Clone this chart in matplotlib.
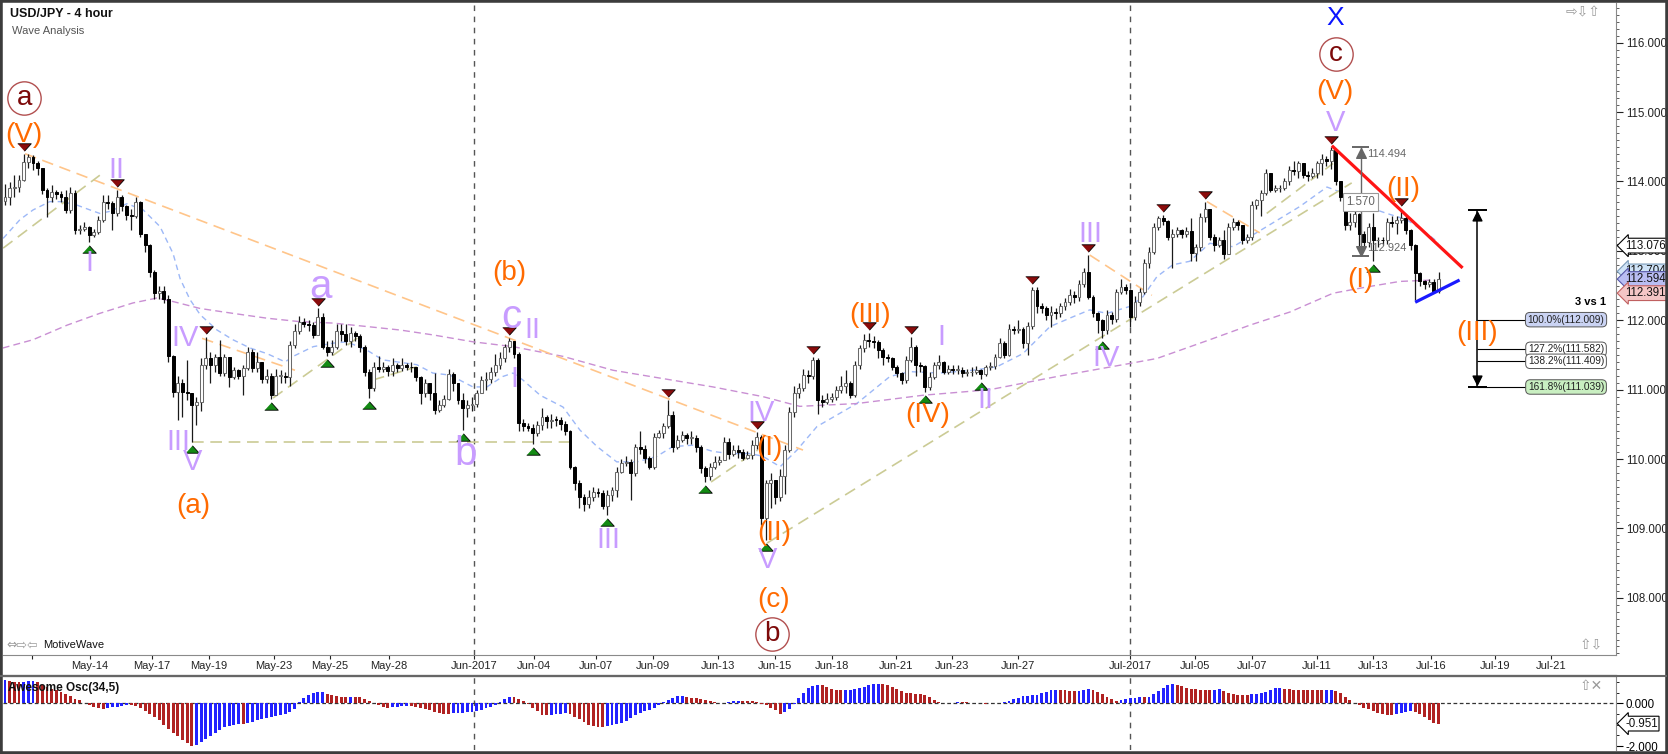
import numpy as np
import matplotlib
matplotlib.use("Agg")
import matplotlib.pyplot as plt
from matplotlib.patches import Rectangle
from matplotlib.lines import Line2D
from matplotlib.ticker import MultipleLocator, FormatStrFormatter, FixedLocator

plt.rcParams['font.family'] = ['Liberation Sans', 'DejaVu Sans']

# ---------------- data ----------------
first_open = 113.72
close = [
    113.78, 113.90, 113.92, 114.02, 114.28, 114.36, 114.26, 114.20, 113.88, 113.78,
    113.85, 113.82, 113.78, 113.59, 113.84, 113.30, 113.32, 113.35, 113.23, 113.27,
    113.45, 113.71, 113.69, 113.55, 113.78, 113.64, 113.52, 113.50, 113.71, 113.25,
    113.08, 112.70, 112.39, 112.42, 112.30, 111.48, 110.97, 111.09, 110.97, 110.95,
    110.78, 110.82, 111.36, 111.45, 111.35, 111.47, 111.24, 111.47, 111.19, 111.28,
    111.20, 111.31, 111.55, 111.31, 111.40, 111.16, 111.20, 110.93, 111.20, 111.20,
    111.18, 111.64, 111.84, 111.98, 111.95, 111.93, 111.79, 112.05, 111.62, 111.55,
    111.62, 111.84, 111.80, 111.70, 111.81, 111.77, 111.62, 111.26, 111.02, 111.33,
    111.30, 111.32, 111.27, 111.35, 111.31, 111.35, 111.33, 111.32, 111.19, 110.95,
    111.10, 110.95, 110.71, 110.78, 110.87, 111.23, 111.10, 110.85, 110.73, 110.78,
    110.80, 110.95, 111.14, 111.16, 111.26, 111.36, 111.45, 111.62, 111.70, 111.52,
    110.52, 110.47, 110.45, 110.37, 110.49, 110.61, 110.55, 110.57, 110.56, 110.50,
    110.40, 109.89, 109.65, 109.46, 109.36, 109.46, 109.53, 109.51, 109.32, 109.48,
    109.55, 109.82, 109.94, 109.96, 109.80, 110.18, 110.15, 110.01, 109.89, 110.32,
    110.37, 110.47, 110.63, 110.18, 110.27, 110.34, 110.30, 110.31, 110.18, 109.87,
    109.75, 109.89, 109.96, 109.99, 110.25, 110.08, 110.13, 110.10, 110.02, 110.06,
    110.20, 110.32, 109.15, 109.65, 109.70, 109.46, 109.75, 110.13, 110.68, 110.95,
    111.02, 111.21, 111.20, 111.43, 110.85, 110.82, 110.87, 110.90, 111.00, 111.06,
    111.10, 110.92, 111.36, 111.60, 111.72, 111.70, 111.68, 111.57, 111.47, 111.45,
    111.33, 111.24, 111.14, 111.43, 111.62, 111.36, 111.34, 111.04, 111.19, 111.36,
    111.40, 111.26, 111.30, 111.28, 111.29, 111.24, 111.25, 111.26, 111.28, 111.23,
    111.33, 111.34, 111.47, 111.67, 111.50, 111.88, 111.86, 111.88, 111.67, 111.92,
    112.44, 112.20, 112.17, 112.08, 112.12, 112.10, 112.20, 112.27, 112.37, 112.33,
    112.53, 112.70, 112.34, 112.10, 112.00, 111.86, 112.08, 112.02, 112.41, 112.48,
    112.43, 112.05, 112.27, 112.41, 112.82, 112.99, 113.35, 113.47, 113.43, 113.20,
    113.25, 113.30, 113.25, 113.28, 112.97, 113.06, 113.49, 113.60, 113.20, 113.09,
    113.15, 112.96, 113.35, 113.42, 113.38, 113.16, 113.20, 113.66, 113.73, 113.83,
    114.12, 113.88, 113.90, 113.90, 114.00, 114.17, 114.15, 114.26, 114.10, 114.08,
    114.12, 114.26, 114.33, 114.30, 114.45, 114.00, 113.78, 113.37, 113.42, 113.53,
    113.25, 113.13, 113.35, 113.15, 113.16, 113.15, 113.42, 113.40, 113.45, 113.47,
    113.30, 113.08, 112.68, 112.56, 112.52, 112.55, 112.42, 112.59,
]
high = [
    113.97, 113.99, 114.10, 114.10, 114.40, 114.40, 114.38, 114.30, 114.20, 113.90,
    113.95, 113.88, 113.87, 113.88, 113.92, 113.88, 113.38, 113.42, 113.36, 113.32,
    113.50, 113.80, 113.80, 113.72, 113.88, 113.80, 113.66, 113.60, 113.78, 113.72,
    113.25, 113.10, 112.72, 112.50, 112.50, 112.36, 111.50, 111.20, 111.15, 111.43,
    110.95, 110.90, 111.45, 111.76, 111.55, 111.52, 111.72, 111.52, 111.47, 111.32,
    111.30, 111.35, 111.62, 111.58, 111.55, 111.33, 111.30, 111.24, 111.30, 111.28,
    111.25, 111.70, 111.95, 112.06, 112.03, 112.00, 111.98, 112.17, 112.10, 111.70,
    111.72, 111.95, 111.95, 111.95, 111.90, 111.85, 111.80, 111.65, 111.30, 111.40,
    111.48, 111.40, 111.35, 111.45, 111.38, 111.45, 111.38, 111.40, 111.33, 111.20,
    111.15, 111.10, 111.24, 110.85, 110.92, 111.30, 111.25, 111.00, 110.95, 110.85,
    110.90, 111.00, 111.20, 111.25, 111.33, 111.52, 111.55, 111.66, 111.74, 111.68,
    111.55, 110.58, 110.52, 110.50, 110.55, 110.74, 110.64, 110.65, 110.62, 110.60,
    110.55, 110.42, 109.90, 109.70, 109.50, 109.55, 109.60, 109.58, 109.55, 109.55,
    109.60, 109.88, 110.00, 110.05, 110.00, 110.22, 110.40, 110.20, 110.05, 110.37,
    110.42, 110.52, 110.85, 110.70, 110.35, 110.40, 110.38, 110.40, 110.34, 110.20,
    109.90, 109.95, 110.05, 110.05, 110.32, 110.30, 110.20, 110.20, 110.15, 110.12,
    110.28, 110.39, 110.35, 109.70, 109.80, 109.70, 109.85, 110.20, 110.75, 111.05,
    111.10, 111.30, 111.28, 111.47, 111.45, 110.92, 110.95, 110.95, 111.05, 111.20,
    111.28, 111.12, 111.42, 111.65, 111.80, 111.82, 111.78, 111.72, 111.60, 111.52,
    111.47, 111.35, 111.25, 111.48, 111.76, 111.64, 111.40, 111.36, 111.25, 111.40,
    111.50, 111.42, 111.36, 111.35, 111.35, 111.32, 111.30, 111.32, 111.34, 111.30,
    111.36, 111.40, 111.52, 111.75, 111.70, 111.95, 111.92, 112.00, 111.90, 111.98,
    112.48, 112.48, 112.25, 112.20, 112.20, 112.18, 112.25, 112.32, 112.45, 112.42,
    112.58, 112.75, 112.94, 112.36, 112.12, 112.02, 112.15, 112.12, 112.45, 112.60,
    112.52, 112.45, 112.35, 112.47, 112.88, 113.05, 113.40, 113.50, 113.52, 113.45,
    113.32, 113.35, 113.32, 113.35, 113.48, 113.10, 113.55, 113.71, 113.60, 113.25,
    113.20, 113.30, 113.40, 113.48, 113.45, 113.38, 113.25, 113.72, 113.75, 113.88,
    114.18, 114.12, 113.95, 113.95, 114.05, 114.22, 114.30, 114.30, 114.25, 114.15,
    114.20, 114.30, 114.40, 114.37, 114.50, 114.47, 114.00, 113.80, 113.55, 113.60,
    113.55, 113.28, 113.40, 113.55, 113.20, 113.20, 113.48, 113.50, 113.50, 113.61,
    113.50, 113.32, 113.10, 112.70, 112.58, 112.60, 112.60, 112.70,
]
low = [
    113.66, 113.66, 113.78, 113.85, 114.00, 114.20, 114.17, 114.10, 113.82, 113.49,
    113.70, 113.75, 113.70, 113.55, 113.55, 113.25, 113.24, 113.28, 113.13, 113.20,
    113.24, 113.42, 113.60, 113.30, 113.50, 113.58, 113.45, 113.30, 113.47, 113.20,
    112.98, 112.62, 112.30, 112.30, 112.25, 111.40, 110.90, 110.56, 110.60, 110.85,
    110.25, 110.49, 110.70, 111.30, 111.10, 111.25, 111.20, 111.20, 111.04, 111.15,
    111.15, 110.92, 111.28, 111.25, 111.25, 111.10, 111.10, 110.87, 110.92, 111.10,
    111.10, 111.05, 111.60, 111.80, 111.90, 111.85, 111.75, 111.80, 111.58, 111.48,
    111.50, 111.58, 111.70, 111.65, 111.62, 111.70, 111.55, 111.20, 110.88, 110.98,
    111.25, 111.25, 111.20, 111.20, 111.25, 111.27, 111.28, 111.25, 111.12, 110.80,
    110.90, 110.85, 110.65, 110.68, 110.75, 110.85, 110.98, 110.80, 110.42, 110.60,
    110.70, 110.75, 110.95, 111.00, 111.10, 111.20, 111.30, 111.40, 111.55, 111.45,
    110.40, 110.40, 110.40, 110.22, 110.33, 110.42, 110.45, 110.45, 110.48, 110.42,
    110.35, 109.85, 109.55, 109.30, 109.25, 109.30, 109.40, 109.45, 109.28, 109.20,
    109.40, 109.45, 109.80, 109.90, 109.41, 109.75, 110.08, 109.95, 109.85, 109.85,
    110.30, 110.30, 110.45, 110.10, 110.15, 110.25, 110.22, 110.22, 110.10, 109.80,
    109.67, 109.70, 109.85, 109.92, 110.00, 110.00, 110.05, 110.02, 109.98, 110.00,
    110.00, 110.15, 109.05, 108.83, 109.30, 109.35, 109.40, 109.50, 110.10, 110.60,
    110.88, 110.98, 111.10, 111.15, 110.65, 110.75, 110.80, 110.82, 110.85, 110.95,
    110.95, 110.88, 110.90, 111.30, 111.55, 111.62, 111.60, 111.45, 111.35, 111.40,
    111.28, 111.18, 111.08, 111.10, 111.40, 111.20, 111.25, 110.97, 111.00, 111.15,
    111.30, 111.22, 111.23, 111.22, 111.22, 111.18, 111.20, 111.20, 111.22, 111.16,
    111.20, 111.28, 111.30, 111.45, 111.45, 111.48, 111.80, 111.82, 111.60, 111.50,
    111.88, 112.10, 112.10, 112.00, 111.90, 112.02, 112.05, 112.15, 112.22, 112.25,
    112.28, 112.48, 112.30, 112.05, 111.81, 111.74, 111.80, 111.95, 111.98, 112.38,
    112.38, 111.90, 112.00, 112.20, 112.38, 112.75, 112.95, 113.30, 113.38, 113.15,
    112.75, 113.20, 113.18, 113.20, 112.85, 112.85, 113.00, 113.42, 113.15, 113.00,
    113.05, 112.89, 112.95, 113.30, 113.30, 113.10, 113.12, 113.15, 113.60, 113.50,
    113.80, 113.85, 113.85, 113.85, 113.88, 113.95, 114.10, 114.05, 114.05, 114.00,
    114.05, 114.05, 114.10, 114.22, 114.18, 113.95, 113.72, 113.30, 113.30, 113.35,
    113.00, 113.05, 113.05, 112.85, 113.05, 113.08, 113.10, 113.35, 113.25, 113.40,
    113.25, 113.02, 112.29, 112.50, 112.45, 112.48, 112.39, 112.40,
]
# Awesome Oscillator (34,5) values per bar
ao = [
    1.08, 1.05, 1.00, 0.99, 1.01, 1.03, 1.04, 0.98, 0.88, 0.76,
    0.66, 0.60, 0.52, 0.42, 0.33, 0.22, 0.14, 0.03, -0.08, -0.18,
    -0.24, -0.27, -0.23, -0.19, -0.15, -0.12, -0.08, -0.10, -0.13, -0.20,
    -0.35, -0.50, -0.65, -0.80, -1.00, -1.20, -1.38, -1.55, -1.72, -1.87,
    -2.00, -1.93, -1.83, -1.68, -1.55, -1.38, -1.23, -1.12, -1.05, -1.00,
    -0.96, -0.97, -0.90, -0.86, -0.80, -0.74, -0.68, -0.63, -0.58, -0.54,
    -0.50, -0.40, -0.25, 0.05, 0.25, 0.40, 0.48, 0.52, 0.53, 0.45,
    0.40, 0.35, 0.30, 0.28, 0.29, 0.28, 0.28, 0.20, 0.10, 0.00,
    -0.08, -0.18, -0.20, -0.17, -0.15, -0.13, -0.12, -0.12, -0.16, -0.20,
    -0.25, -0.33, -0.42, -0.45, -0.48, -0.48, -0.46, -0.45, -0.44, -0.43,
    -0.40, -0.35, -0.30, -0.22, -0.15, -0.08, 0.08, 0.20, 0.30, 0.28,
    0.20, 0.10, -0.05, -0.20, -0.38, -0.53, -0.55, -0.53, -0.50, -0.48,
    -0.45, -0.50, -0.62, -0.72, -0.88, -1.02, -1.08, -1.10, -1.11, -1.05,
    -1.00, -0.97, -0.93, -0.82, -0.70, -0.57, -0.46, -0.38, -0.31, -0.20,
    -0.08, 0.05, 0.16, 0.25, 0.33, 0.34, 0.30, 0.27, 0.24, 0.21,
    0.14, 0.10, 0.06, 0.03, 0.02, 0.07, 0.10, 0.12, 0.11, 0.10,
    0.09, 0.08, -0.02, -0.10, -0.20, -0.32, -0.48, -0.42, -0.28, -0.05,
    0.25, 0.48, 0.70, 0.82, 0.88, 0.86, 0.78, 0.68, 0.62, 0.60,
    0.61, 0.63, 0.65, 0.70, 0.78, 0.85, 0.90, 0.92, 0.90, 0.84,
    0.75, 0.66, 0.56, 0.50, 0.47, 0.45, 0.42, 0.37, 0.30, 0.16,
    0.06, 0.03, 0.02, 0.03, 0.04, 0.04, 0.04, 0.03, 0.01, 0.00,
    -0.01, 0.00, 0.01, 0.03, 0.07, 0.11, 0.20, 0.27, 0.32, 0.35,
    0.37, 0.40, 0.46, 0.53, 0.60, 0.64, 0.62, 0.60, 0.58, 0.56,
    0.58, 0.62, 0.67, 0.63, 0.52, 0.42, 0.30, 0.18, 0.12, 0.14,
    0.20, 0.24, 0.27, 0.28, 0.28, 0.30, 0.42, 0.58, 0.72, 0.86,
    0.90, 0.86, 0.80, 0.74, 0.68, 0.65, 0.64, 0.63, 0.63, 0.64,
    0.66, 0.58, 0.50, 0.44, 0.41, 0.40, 0.40, 0.42, 0.45, 0.48,
    0.55, 0.64, 0.70, 0.71, 0.69, 0.66, 0.64, 0.63, 0.63, 0.62,
    0.62, 0.61, 0.60, 0.61, 0.62, 0.57, 0.46, 0.30, 0.17, 0.00,
    -0.10, -0.20, -0.28, -0.38, -0.47, -0.51, -0.53, -0.54, -0.50, -0.45,
    -0.40, -0.35, -0.39, -0.52, -0.66, -0.79, -0.90, -0.95,
]

date_pos = [5.7, 18.2, 31.5, 43.7, 57.6, 69.6, 82.2, 100.5, 113.3, 126.6, 138.7,
            152.7, 164.8, 177.2, 190.9, 202.9, 216.9, 240.9, 254.9, 267.0, 280.9,
            292.9, 305.4, 319.0, 331.0]
date_labels = ["", "May-14", "May-17", "May-19", "May-23", "May-25", "May-28",
               "Jun-2017", "Jun-04", "Jun-07", "Jun-09", "Jun-13", "Jun-15", "Jun-18",
               "Jun-21", "Jun-23", "Jun-27", "Jul-2017", "Jul-05", "Jul-07", "Jul-11",
               "Jul-13", "Jul-16", "Jul-19", "Jul-21"]
month_starts = [100.5, 240.9]

fast_idx = [-0.4, 3.2, 6.0, 9.6, 12.2, 15.4, 18.2, 20.3, 22.5, 26.1, 29.6, 33.2, 36.0,
            37.5, 39.6, 41.8, 45.4, 48.8, 52.5, 56.1, 60.0, 61.7, 66.0, 70.2, 73.2,
            77.5, 80.9, 88.2, 91.6, 95.3, 100.2, 103.2, 106.6, 108.8, 110.9, 114.6,
            119.5, 123.1, 126.8, 131.0, 135.3, 139.6, 143.0, 147.3, 151.6, 155.2,
            159.5, 162.3, 166.0, 169.6, 173.9, 182.4, 189.5, 193.8, 200.2, 207.3,
            212.4, 218.0, 223.8, 228.7, 232.3, 236.0, 240.9, 243.7, 246.7, 250.1,
            253.7, 258.0, 263.0, 270.2, 277.3, 283.1, 285.9, 291.6, 295.9, 300.2,
            304.5, 307.0]
fast_val = [113.18, 113.45, 113.59, 113.71, 113.71, 113.66, 113.59, 113.54, 113.57,
            113.68, 113.59, 113.35, 112.96, 112.60, 112.30, 112.08, 111.86, 111.72,
            111.60, 111.52, 111.40, 111.48, 111.62, 111.67, 111.69, 111.57, 111.43,
            111.36, 111.24, 111.21, 111.04, 111.04, 111.19, 111.24, 111.14, 110.92,
            110.75, 110.42, 110.18, 109.96, 109.96, 110.04, 110.18, 110.20, 110.11,
            110.08, 110.08, 110.04, 109.89, 110.13, 110.47, 110.80, 111.19, 111.26,
            111.24, 111.28, 111.33, 111.52, 111.91, 112.05, 112.15, 112.10, 112.20,
            112.34, 112.63, 112.80, 112.85, 113.11, 113.06, 113.35, 113.64, 113.92,
            113.85, 113.64, 113.54, 113.45, 113.25, 113.12]
slow_idx = [-0.5, 6.0, 13.3, 20.3, 27.4, 32.5, 36.0, 41.8, 48.8, 56.1, 63.2, 70.2,
            77.5, 84.6, 91.6, 100.2, 108.8, 119.5, 130.2, 140.9, 151.6, 162.3, 170.2,
            182.4, 196.6, 210.9, 225.3, 239.4, 246.7, 258.0, 266.6, 275.2, 284.4,
            291.6, 298.7, 305.7]
slow_val = [111.60, 111.72, 111.93, 112.10, 112.25, 112.32, 112.27, 112.17, 112.10,
            112.03, 111.98, 111.96, 111.91, 111.86, 111.79, 111.69, 111.62, 111.48,
            111.28, 111.16, 111.04, 110.90, 110.76, 110.80, 110.92, 111.00, 111.19,
            111.36, 111.45, 111.72, 111.93, 112.12, 112.39, 112.48, 112.56, 112.58]

peak_idx = [4, 24, 43, 67, 108, 142, 161, 173, 185, 194, 220, 232, 248, 257, 284, 299]
trough_idx = [18, 40, 57, 69, 78, 98, 113, 129, 150, 163, 197, 209, 235, 293]

wave_text = ["a", "(V)", "II", "I", "a", "IV", "III", "V", "(a)", "b", "(b)", "c", "II",
             "I", "III", "IV", "(I)", "(II)", "V", "(c)", "b", "(III)", "I", "(IV)",
             "II", "III", "IV", "X", "c", "(V)", "V", "(II)", "(I)", "(III)"]
wave_idx = [4.1, 4.1, 23.9, 18.0, 67.5, 38.5, 37.1, 40.2, 40.4, 98.7, 108.1, 108.4,
            113.0, 109.0, 129.2, 161.9, 163.7, 164.7, 163.4, 164.5, 164.2, 185.2,
            200.6, 197.7, 209.9, 232.5, 235.8, 284.8, 285.0, 284.8, 284.9, 299.4,
            290.2, 315.3]
wave_price = [115.20, 114.67, 114.17, 112.83, 112.48, 111.74, 110.25, 109.96, 109.33,
              110.08, 112.68, 112.05, 111.86, 111.16, 108.83, 110.66, 110.16, 108.94,
              108.55, 107.97, 107.48, 112.08, 111.76, 110.64, 110.85, 113.25, 111.45,
              116.35, 115.83, 115.29, 114.84, 113.89, 112.58, 111.81]
wave_kind = ["circ", "or", "lav", "lav", "lavl", "lav", "lav", "lav", "or", "lavl",
             "or", "lavl", "lav", "lav", "lav", "lav", "or", "or", "lav", "or", "circ",
             "or", "lav", "or", "lav", "lav", "lav", "X", "circ", "or", "lav", "or",
             "or", "or"]

# dashed trend lines: (idx0, price0, idx1, price1, kind)
trend_lines = [
    (4.3, 114.40, 170.9, 110.13, "orange"),
    (-0.4, 113.04, 20.3, 114.09, "olive"),
    (40.0, 110.25, 121.6, 110.25, "olive"),
    (57.4, 110.88, 76.4, 111.79, "olive"),
    (78.8, 111.14, 88.2, 111.33, "olive"),
    (42.2, 111.74, 62.1, 111.28, "orange"),
    (151.2, 109.67, 161.2, 110.13, "olive"),
    (163.2, 108.79, 288.4, 113.98, "olive"),
    (270.2, 113.54, 284.4, 114.26, "olive"),
    (232.3, 112.94, 245.6, 112.36, "orange"),
    (257.4, 113.71, 268.7, 113.26, "orange"),
]
red_line = (284.4, 114.50, 311.9, 112.77)
blue_line = (302.3, 112.27, 311.2, 112.57)

measure_idx = 290.3
measure_hi, measure_lo = 114.494, 112.924
measure_diff = "1.570"

proj_idx = 315.3
proj_top = 113.59
fib_pcts = ["100.0%", "127.2%", "138.2%", "161.8%"]
fib_levels = [112.009, 111.582, 111.409, 111.039]
fib_end_idx = 325.8
fib_label_idx = 334.3

tag_values = [113.076, 112.704, 112.594, 112.391]
ao_last = -0.951

# ---------------- figure ----------------
W, H = 1668, 754
fig = plt.figure(figsize=(W / 100, H / 100), dpi=100)
fig.patch.set_facecolor('white')


def fx(px):
    return px / W


def fy(py):
    return 1 - py / H


ax = fig.add_axes([fx(3), fy(655), fx(1616) - fx(3), fy(3) - fy(655)])
ax2 = fig.add_axes([fx(3), fy(750), fx(1616) - fx(3), fy(676) - fy(750)])

XMIN, XMAX = -0.43, 345.0
ax.set_xlim(XMIN, XMAX)
ax.set_ylim(107.177, 116.572)
ax2.set_xlim(XMIN, XMAX)
ax2.set_ylim(-2.187, 1.279)

# candles
c = np.array(close)
h = np.array(high)
l = np.array(low)
n = len(c)
o = np.concatenate([[first_open], c[:-1]])
x = np.arange(n)
top = np.maximum(o, c)
bot = np.minimum(o, c)
hgt = np.maximum(top - bot, 0.012)
ax.vlines(x, np.minimum(l[:n], bot), np.maximum(h[:n], top), color='#1a1a1a', lw=0.9, zorder=3)
up = c >= o
ax.bar(x[up], hgt[up], bottom=bot[up], width=0.62, color='white', edgecolor='#6a6a6a',
       linewidth=0.75, zorder=4)
ax.bar(x[~up], hgt[~up], bottom=bot[~up], width=0.62, color='black', edgecolor='black',
       linewidth=0.7, zorder=4)

# moving averages
ax.plot(fast_idx, fast_val, color='#9db8f7', lw=1.0, dashes=(4, 3), zorder=2)
ax.plot(slow_idx, slow_val, color='#c98fd3', lw=1.0, dashes=(5, 3), zorder=2)

# trend lines
tl_colors = {"orange": "#ffc58a", "olive": "#cbcb95"}
for i0, p0, i1, p1, kind in trend_lines:
    ax.plot([i0, i1], [p0, p1], color=tl_colors[kind], lw=1.2, dashes=(7, 4), zorder=2)

ax.plot([red_line[0], red_line[2]], [red_line[1], red_line[3]], color='#ff1515', lw=2.3, zorder=5)
ax.plot([blue_line[0], blue_line[2]], [blue_line[1], blue_line[3]], color='#1a1aff', lw=2.3, zorder=5)

# pivot markers
tri_down = [(-1, 0.55), (1, 0.55), (0, -0.55)]
tri_up = [(-1, -0.55), (1, -0.55), (0, 0.55)]
pk = np.array(peak_idx)
tr = np.array(trough_idx)
ax.scatter(pk, h[pk] + 0.10, marker=tri_down, s=95, c='#8a0c0c', edgecolors='black',
           linewidths=0.6, zorder=6)
ax.scatter(tr, l[tr] - 0.10, marker=tri_up, s=95, c='#138a13', edgecolors='black',
           linewidths=0.6, zorder=6)

# wave labels
styles = {
    'or': dict(color='#ff6a00', fontsize=20),
    'lav': dict(color='#c89cff', fontsize=21),
    'lavl': dict(color='#c89cff', fontsize=29),
    'circ': dict(color='#7d0a0a', fontsize=20),
    'X': dict(color='#0a14ff', fontsize=19),
}
for t, wi, wp, k in zip(wave_text, wave_idx, wave_price, wave_kind):
    if k == 'circ':
        ax.plot([wi], [wp], marker='o', ms=24, mfc='white', mec='#b25050', mew=1.0,
                zorder=6, clip_on=False)
    ax.text(wi, wp, t, ha='center', va='center', zorder=7, **styles[k])

# gray measurement
ax.vlines(measure_idx, measure_lo, measure_hi, color='#666666', lw=1.0, zorder=5)
ax.hlines([measure_hi, measure_lo], measure_idx - 1.9, measure_idx + 1.9, color='#666666',
          lw=1.4, zorder=5)
ax.scatter([measure_idx], [measure_hi - 0.08], marker='^', s=48, color='#666666', zorder=5)
ax.scatter([measure_idx], [measure_lo + 0.08], marker='v', s=48, color='#666666', zorder=5)
ax.text(measure_idx + 1.3, measure_hi - 0.10, f"{measure_hi:.3f}", fontsize=8,
        color='#666666', ha='left', va='center', zorder=6)
ax.text(measure_idx + 1.3, measure_lo + 0.12, f"{measure_lo:.3f}", fontsize=8,
        color='#666666', ha='left', va='center', zorder=6)
ax.text(measure_idx, (measure_hi + measure_lo) / 2, measure_diff, fontsize=8.3,
        color='#666666', ha='center', va='center', zorder=6,
        bbox=dict(boxstyle='square,pad=0.25', fc='white', ec='#999999', lw=0.8))

# black projection with fib levels
ax.vlines(proj_idx, fib_levels[-1], proj_top, color='black', lw=1.1, zorder=5)
ax.hlines([proj_top, fib_levels[-1]], proj_idx - 2.0, proj_idx + 2.0, color='black', lw=1.4,
          zorder=5)
ax.scatter([proj_idx], [proj_top - 0.09], marker='^', s=40, color='black', zorder=5)
ax.scatter([proj_idx], [fib_levels[-1] + 0.1], marker='v', s=40, color='black', zorder=5)
ax.hlines(fib_levels, proj_idx, fib_end_idx, color='black', lw=0.8, zorder=5)
fib_fc = ['#cad3f3', 'white', 'white', '#c9efc1']
for pct, lvl, fc in zip(fib_pcts, fib_levels, fib_fc):
    ax.text(fib_label_idx, lvl, f"{pct}({lvl:.3f})", ha='center', va='center', fontsize=7.3,
            color='#222222', zorder=6,
            bbox=dict(boxstyle='round,pad=0.22,rounding_size=0.45', fc=fc, ec='#555555', lw=0.7))
ax.text(342.8, 112.26, '3 vs 1', ha='right', va='center', fontsize=8, weight='bold', zorder=6)

# month separators
for m in month_starts:
    ax.axvline(m, color='#555555', lw=1.0, dashes=(4, 4), zorder=1)
    ax2.axvline(m, color='#555555', lw=1.0, dashes=(4, 4), zorder=1)

# main axis formatting
for s in ['top', 'left']:
    ax.spines[s].set_visible(False)
ax.spines['right'].set_color('#8a8a8a')
ax.spines['bottom'].set_color('#8a8a8a')
ax.yaxis.tick_right()
ax.yaxis.set_major_locator(MultipleLocator(1))
ax.yaxis.set_minor_locator(MultipleLocator(0.1))
ax.yaxis.set_major_formatter(FormatStrFormatter('%.3f'))
ax.tick_params(axis='y', which='major', length=5, width=0.8, labelsize=8.3, pad=2,
               colors='#222222')
ax.tick_params(axis='y', which='minor', length=2.5, width=0.6, colors='#444444')
ax.set_xticks(date_pos)
ax.set_xticklabels(date_labels)
ax.tick_params(axis='x', length=3, width=0.8, labelsize=8, pad=1.5, colors='#222222')

# oscillator
aov = np.array(ao[:n])
xa = np.arange(len(aov))
cols = ['#2222ff' if (k == 0 or aov[k] > aov[k - 1]) else '#b02222' for k in range(len(aov))]
ax2.bar(xa, aov, width=0.62, color=cols, zorder=3)
ax2.axhline(0, color='#333333', lw=0.9, dashes=(3, 2), zorder=2)
for s in ['left', 'bottom']:
    ax2.spines[s].set_visible(False)
ax2.spines['top'].set_color('#555555')
ax2.spines['top'].set_linewidth(1.6)
ax2.spines['right'].set_color('#8a8a8a')
ax2.set_xticks([])
ax2.yaxis.tick_right()
ax2.yaxis.set_major_locator(FixedLocator([0, -2]))
ax2.yaxis.set_minor_locator(MultipleLocator(0.5))
ax2.yaxis.set_major_formatter(FormatStrFormatter('%.3f'))
ax2.tick_params(axis='y', which='major', length=5, width=0.8, labelsize=8.3, pad=2)
ax2.tick_params(axis='y', which='minor', length=2.5, width=0.6)


def price_tag(axis, val, fc, ec, z):
    axis.annotate(f"{val:.3f}", xy=(1, val), xycoords=('axes fraction', 'data'),
                  xytext=(9, 0), textcoords='offset pixels', ha='left', va='center',
                  fontsize=8.3, color='#111111',
                  bbox=dict(boxstyle='larrow,pad=0.12', fc=fc, ec=ec, lw=0.8),
                  annotation_clip=False, zorder=z)


tag_style = [('white', 'black'), ('#cfe3f7', '#7a9ab8'), ('#b9bdf2', '#5658a8'),
             ('#f4c6c6', '#c06060')]
for k, (val, (fc, ec)) in enumerate(zip(tag_values, tag_style)):
    price_tag(ax, val, fc, ec, 8 + (k if k != 1 else -1))
price_tag(ax2, ao_last, 'white', 'black', 10)

# header / decorations
fig.text(fx(10), fy(14), 'USD/JPY - 4 hour', fontsize=9, weight='bold', va='center',
         ha='left', color='#111111')
fig.text(fx(12), fy(31), 'Wave Analysis', fontsize=8, color='#555555', va='center', ha='left')
fig.text(fx(8), fy(688), 'Awesome Osc(34,5)', fontsize=8.5, weight='bold', va='center',
         ha='left', color='#111111', zorder=10)
icon_font = ['DejaVu Sans']
fig.text(fx(1566), fy(12), '⇨⇩⇧', family=icon_font, fontsize=10, color='#9a9a9a', va='center')
fig.text(fx(1580), fy(645), '⇧⇩', family=icon_font, fontsize=10, color='#9a9a9a', va='center')
fig.text(fx(1580), fy(686), '⇧✕', family=icon_font, fontsize=10, color='#9a9a9a', va='center')
fig.text(fx(6), fy(645), '⇔⇨⇦', family=icon_font, fontsize=9, color='#9a9a9a', va='center')
fig.text(fx(43), fy(645), 'MotiveWave', fontsize=8, color='#111111', va='center')

fig.add_artist(Line2D([0, fx(1666)], [fy(675.5), fy(675.5)], color='#666666', lw=1.5))
fig.add_artist(Rectangle((0, 0), 1, 1, transform=fig.transFigure, fill=False,
                         ec='#3c3c3c', lw=4))

fig.savefig('out.png', dpi=100, facecolor='white')
